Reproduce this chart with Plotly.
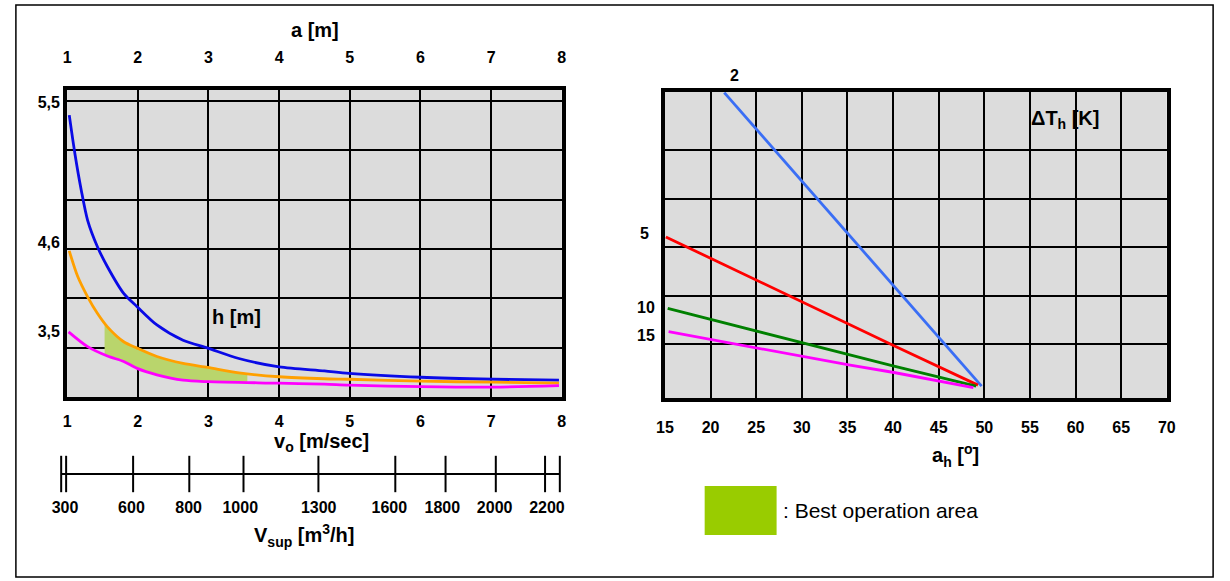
import plotly.graph_objects as go

# ---------------- data ----------------
# Left chart: x = v0 [m/s] (1..8), y = chart grid units (h axis, labelled 3,5 / 4,6 / 5,5)
v_ticks = [1, 2, 3, 4, 5, 6, 7, 8]
a_ticks = [1, 2, 3, 4, 5, 6, 7, 8]
h_tick_pos = [5.97, 3.14, 1.32]
h_tick_text = ["5,5", "4,6", "3,5"]

blue_x = [1.03, 1.11, 1.20, 1.29, 1.43, 1.57, 1.80, 1.99, 2.27, 2.64, 2.99, 3.43, 4.0, 4.64, 4.99, 6.01, 7.03, 7.96]
blue_y = [5.71, 4.93, 4.19, 3.58, 3.04, 2.64, 2.10, 1.83, 1.46, 1.15, 0.99, 0.78, 0.61, 0.53, 0.48, 0.40, 0.36, 0.34]

orange_x = [1.03, 1.15, 1.29, 1.43, 1.57, 1.80, 1.99, 2.27, 2.64, 2.99, 3.43, 4.0, 4.64, 4.99, 6.01, 7.03, 7.96]
orange_y = [2.96, 2.44, 2.03, 1.69, 1.42, 1.12, 0.99, 0.82, 0.68, 0.60, 0.49, 0.41, 0.37, 0.36, 0.32, 0.30, 0.28]

magenta_x = [1.02, 1.29, 1.57, 1.80, 1.99, 2.27, 2.64, 2.99, 4.0, 4.64, 4.99, 6.01, 7.03, 7.96]
magenta_y = [1.32, 1.02, 0.83, 0.72, 0.58, 0.45, 0.34, 0.31, 0.28, 0.26, 0.24, 0.21, 0.20, 0.23]

best_x = [1.53, 1.80, 1.99, 2.27, 2.64, 2.99, 3.30, 3.55]
best_top = [1.48, 1.12, 0.99, 0.82, 0.68, 0.60, 0.52, 0.48]
best_bottom = [0.86, 0.72, 0.58, 0.45, 0.34, 0.31, 0.30, 0.30]

# Supply air volume scale (positions on the v0 scale)
vsup_tick_pos = [0.916, 0.986, 1.934, 2.729, 3.496, 4.556, 5.644, 6.355, 7.066, 7.763, 7.972]
vsup_label_pos = [0.97, 1.91, 2.72, 3.45, 4.56, 5.56, 6.31, 7.05, 7.79]
vsup_labels = ["300", "600", "800", "1000", "1300", "1600", "1800", "2000", "2200"]

# Right chart: x = a_h [deg], y = chart grid units; one line per dT_h [K]
ah_ticks = [15, 20, 25, 30, 35, 40, 45, 50, 55, 60, 65, 70]
dt_labels = ["2", "5", "10", "15"]
dt2_x = [21.5, 49.7]
dt2_y = [6.18, 0.14]
dt5_x = [15.1, 25.2, 35.26, 40.1, 49.3]
dt5_y = [3.21, 2.30, 1.39, 0.97, 0.16]
dt10_x = [15.3, 25.2, 35.3, 40.1, 49.1]
dt10_y = [1.74, 1.26, 0.78, 0.55, 0.14]
dt15_x = [15.4, 25.2, 35.3, 40.1, 48.8]
dt15_y = [1.26, 0.92, 0.57, 0.42, 0.11]

# ---------------- layout helpers ----------------
W, H = 1230, 581
FONT = "Liberation Sans, Arial, sans-serif"


def px(x):
    return x / W


def py(y):
    return 1 - y / H


fig = go.Figure()

# best operation area fill
fig.add_trace(go.Scatter(
    x=best_x + best_x[::-1], y=best_top + best_bottom[::-1],
    fill="toself", fillcolor="#b9d56c", line=dict(width=0),
    mode="lines", xaxis="x", yaxis="y", hoverinfo="skip", showlegend=False))

for xs, ys, col in [(blue_x, blue_y, "#0a0ae6"), (orange_x, orange_y, "#ffa000"),
                    (magenta_x, magenta_y, "#ff00ff")]:
    fig.add_trace(go.Scatter(x=xs, y=ys, mode="lines", line=dict(color=col, width=2.8, shape="spline", smoothing=0.8),
                             xaxis="x", yaxis="y", showlegend=False))

# invisible trace for top axis
fig.add_trace(go.Scatter(x=[1, 8], y=[0, 0], mode="markers", marker=dict(opacity=0),
                         xaxis="x2", yaxis="y", showlegend=False, hoverinfo="skip"))

# Vsup scale
fig.add_trace(go.Scatter(x=[vsup_tick_pos[0], vsup_tick_pos[-1]], y=[0, 0], mode="lines",
                         line=dict(color="black", width=2), xaxis="x4", yaxis="y4", showlegend=False))
fig.add_trace(go.Scatter(x=vsup_tick_pos, y=[0] * len(vsup_tick_pos), mode="markers",
                         marker=dict(symbol="line-ns", size=26, line=dict(width=2, color="black")),
                         xaxis="x4", yaxis="y4", showlegend=False, cliponaxis=False))

# right chart lines
for xs, ys, col in [(dt2_x, dt2_y, "#3a6ef5"), (dt5_x, dt5_y, "#ff0000"),
                    (dt10_x, dt10_y, "#008000"), (dt15_x, dt15_y, "#ff00ff")]:
    fig.add_trace(go.Scatter(x=xs, y=ys, mode="lines", line=dict(color=col, width=2.8),
                             xaxis="x3", yaxis="y3", showlegend=False))

tickfont = dict(family=FONT, size=16, color="black", weight="bold")
grid = dict(showgrid=True, gridcolor="black", gridwidth=2)
border = dict(showline=True, linecolor="black", linewidth=4, mirror=True, zeroline=False)

fig.update_layout(
    width=W, height=H, margin=dict(l=0, r=0, t=0, b=0),
    paper_bgcolor="white", plot_bgcolor="white",
    font=dict(family=FONT, color="black"),
    xaxis=dict(domain=[px(59), px(561)], range=[1, 8], tickvals=v_ticks, anchor="y",
               ticks="outside", ticklen=7, tickcolor="rgba(0,0,0,0)", tickfont=tickfont, **grid, **border),
    xaxis2=dict(domain=[px(59), px(561)], range=[1, 8], tickvals=a_ticks, overlaying="x", side="top",
                anchor="y", showgrid=False, zeroline=False, showline=False,
                ticks="outside", ticklen=20, tickcolor="rgba(0,0,0,0)", tickfont=tickfont),
    yaxis=dict(domain=[py(397), py(90)], range=[0, 6.22], tickvals=h_tick_pos, ticktext=h_tick_text,
               showgrid=False, ticks="", tickfont=tickfont,
               minor=dict(tick0=0, dtick=1, showgrid=True, gridcolor="black", gridwidth=2),
               **border),
    xaxis3=dict(domain=[px(665.7), px(1175)], range=[15, 70], tickvals=ah_ticks, anchor="y3",
                ticks="outside", ticklen=12, tickcolor="rgba(0,0,0,0)", tickfont=tickfont, **grid, **border),
    yaxis3=dict(domain=[py(398), py(91.7)], range=[-0.105, 6.2], tickvals=[1, 2, 3, 4, 5],
                showticklabels=False, anchor="x3", **grid, **border),
    xaxis4=dict(domain=[px(51.8), px(564.6)], range=[0.9, 8.05], tickvals=vsup_label_pos, ticktext=vsup_labels,
                anchor="y4", showgrid=False, zeroline=False, showline=False,
                ticks="outside", ticklen=6, tickcolor="rgba(0,0,0,0)", tickfont=tickfont),
    yaxis4=dict(domain=[py(487), py(461)], range=[-1, 1], anchor="x4", visible=False),
)

# grey plot backgrounds for the two charts only
for xr, yr in [("x", "y"), ("x3", "y3")]:
    fig.add_shape(type="rect", xref=f"{xr} domain", yref=f"{yr} domain", x0=0, x1=1, y0=0, y1=1,
                  fillcolor="#dcdcdc", line=dict(width=0), layer="below")

titlefont = dict(family=FONT, size=20, color="black", weight="bold")
ann = [
    dict(text="a [m]", x=px(311), y=py(30)),
    dict(text="v<sub>o</sub> [m/sec]", x=px(317), y=py(442)),
    dict(text="V<sub>sup</sub> [m<sup>3</sup>/h]", x=px(299), y=py(535)),
    dict(text="ΔT<sub>h</sub> [K]", x=px(1072), y=py(119)),
    dict(text="a<sub>h</sub> [<sup>o</sup>]", x=px(961), y=py(455)),
]
for a in ann:
    fig.add_annotation(xref="paper", yref="paper", xanchor="center", yanchor="middle",
                       showarrow=False, font=titlefont, **a)

fig.add_annotation(text="h [m]", x=3.40, y=1.62, xref="x", yref="y", showarrow=False, font=titlefont)

# curve labels of the right chart (placed beside the chart frame)
dt_label_px = [(736, 75), (645, 233), (646, 307), (646, 335)]
for lab, (lx, ly) in zip(dt_labels, dt_label_px):
    fig.add_annotation(text=lab, x=px(lx), y=py(ly), xref="paper", yref="paper", showarrow=False,
                       xanchor="center", yanchor="middle",
                       font=dict(family=FONT, size=16, color="black", weight="bold"))

# legend
fig.add_shape(type="rect", xref="paper", yref="paper", x0=px(706), x1=px(779), y0=py(535), y1=py(486),
              fillcolor="#99cc00", line=dict(width=0))
fig.add_annotation(text=": Best operation area", x=px(783), y=py(511), xref="paper", yref="paper",
                   xanchor="left", yanchor="middle", showarrow=False,
                   font=dict(family=FONT, size=21, color="black"))

# outer frame
fig.add_shape(type="rect", xref="paper", yref="paper", x0=px(7), x1=px(1222), y0=py(577), y1=py(5),
              line=dict(color="black", width=1.5), fillcolor="rgba(0,0,0,0)")

fig.write_html("out.html", config={"displayModeBar": False},
               post_script="document.body.style.margin='0';document.body.style.overflow='hidden';")
